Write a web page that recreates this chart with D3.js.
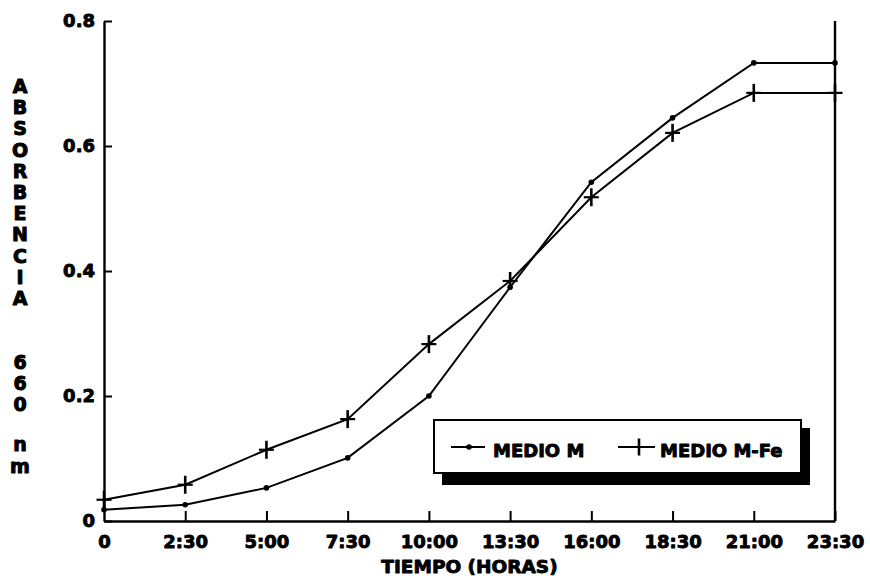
<!DOCTYPE html>
<html>
<head>
<meta charset="utf-8">
<script src="https://cdn.jsdelivr.net/npm/d3@7"></script>
<style>
  body { margin: 0; background: #fff; }
  text { font-family: "DejaVu Sans", sans-serif; font-weight: bold; fill: #000; }
</style>
</head>
<body>
<svg id="chart" width="870" height="584"></svg>
<script>
// Growth curves: absorbance at 660 nm over time for two culture media
const times = ["0", "2:30", "5:00", "7:30", "10:00", "13:30", "16:00", "18:30", "21:00", "23:30"];
const medioM = [0.018, 0.026, 0.053, 0.101, 0.200, 0.374, 0.542, 0.645, 0.733, 0.733];
const medioMFe = [0.034, 0.058, 0.114, 0.163, 0.283, 0.384, 0.518, 0.621, 0.685, 0.685];
const yTicks = [0, 0.2, 0.4, 0.6, 0.8];
const seriesNames = ["MEDIO M", "MEDIO M-Fe"];
const xTitle = "TIEMPO (HORAS)";
const yTitle = "ABSORBENCIA  660 nm";

const svg = d3.select("#chart");
const margin = { left: 104, right: 835, top: 21, bottom: 521 };

const x = d3.scalePoint().domain(times).range([margin.left, margin.right]).padding(0);
const y = d3.scaleLinear().domain([0, 0.8]).range([margin.bottom, margin.top]);

// Axes with inward ticks
const xAxis = d3.axisBottom(x).tickSizeInner(-10).tickSizeOuter(0).tickPadding(14);
const yAxis = d3.axisLeft(y).tickValues(yTicks).tickSizeInner(-8).tickSizeOuter(0).tickPadding(9)
  .tickFormat(d => d === 0 ? "0" : d3.format(".1f")(d));

const gx = svg.append("g").attr("transform", `translate(0,${margin.bottom})`).call(xAxis);
const gy = svg.append("g").attr("transform", `translate(${margin.left},0)`).call(yAxis);

[gx, gy].forEach(g => {
  g.selectAll("path.domain").attr("stroke", "#000").attr("stroke-width", 2.4);
  g.selectAll(".tick line").attr("stroke", "#000").attr("stroke-width", 2);
  g.selectAll(".tick text")
    .style("font-family", "'DejaVu Sans', sans-serif")
    .style("font-weight", "bold")
    .style("font-size", "18px")
    .attr("fill", "#000")
    .attr("stroke", "#000").attr("stroke-width", 0.9).attr("stroke-linejoin", "round");
});
gx.select(".tick line").remove();

// Right frame line
svg.append("line")
  .attr("x1", margin.right).attr("x2", margin.right)
  .attr("y1", y(0.8)).attr("y2", y(0))
  .attr("stroke", "#000").attr("stroke-width", 2.4);

// Axis titles
svg.append("text")
  .attr("x", (margin.left + margin.right) / 2)
  .attr("y", 573)
  .attr("text-anchor", "middle")
  .style("font-size", "18.5px")
  .attr("stroke", "#000").attr("stroke-width", 0.9).attr("stroke-linejoin", "round")
  .text(xTitle);

svg.append("g").selectAll("text")
  .data(yTitle.split(""))
  .join("text")
  .attr("x", 20)
  .attr("y", (d, i) => 86 + i * 21.2 + (d === d.toLowerCase() && d !== " " && isNaN(+d) ? 5 : 7))
  .attr("text-anchor", "middle")
  .style("font-size", "19px")
  .attr("stroke", "#000").attr("stroke-width", 1).attr("stroke-linejoin", "round")
  .text(d => d);

// Series
const line = d3.line().x((d, i) => x(times[i])).y(d => y(d));

svg.append("path")
  .datum(medioM)
  .attr("d", line)
  .attr("fill", "none").attr("stroke", "#000").attr("stroke-width", 2);

svg.append("path")
  .datum(medioMFe)
  .attr("d", line)
  .attr("fill", "none").attr("stroke", "#000").attr("stroke-width", 2);

svg.append("g").selectAll("circle")
  .data(medioM)
  .join("circle")
  .attr("cx", (d, i) => x(times[i]))
  .attr("cy", d => y(d))
  .attr("r", 2.8)
  .attr("fill", "#000");

const plus = (g, cx, cy, w, h) => {
  g.append("line").attr("x1", cx - w).attr("x2", cx + w).attr("y1", cy).attr("y2", cy)
    .attr("stroke", "#000").attr("stroke-width", 2.2);
  g.append("line").attr("x1", cx).attr("x2", cx).attr("y1", cy - h).attr("y2", cy + h)
    .attr("stroke", "#000").attr("stroke-width", 2.6);
};

const gp = svg.append("g");
medioMFe.forEach((d, i) => plus(gp, x(times[i]), y(d), 7.5, 9));

// Legend with drop shadow
const lg = svg.append("g");
lg.append("rect").attr("x", 442).attr("y", 428).attr("width", 368).attr("height", 57).attr("fill", "#000");
lg.append("rect").attr("x", 434).attr("y", 420).attr("width", 367).attr("height", 53)
  .attr("fill", "#fff").attr("stroke", "#000").attr("stroke-width", 2);

const ly = 447;
lg.append("line").attr("x1", 451).attr("x2", 485).attr("y1", ly).attr("y2", ly)
  .attr("stroke", "#000").attr("stroke-width", 2);
lg.append("circle").attr("cx", 469).attr("cy", ly).attr("r", 2.8).attr("fill", "#000");
lg.append("text").attr("x", 493).attr("y", ly + 10).style("font-size", "18px")
  .attr("stroke", "#000").attr("stroke-width", 0.9).attr("stroke-linejoin", "round").text(seriesNames[0]);

lg.append("line").attr("x1", 618).attr("x2", 655).attr("y1", ly).attr("y2", ly)
  .attr("stroke", "#000").attr("stroke-width", 2);
plus(lg, 639, ly, 0, 8.5);
lg.append("text").attr("x", 660).attr("y", ly + 10).style("font-size", "18px")
  .attr("stroke", "#000").attr("stroke-width", 0.9).attr("stroke-linejoin", "round").text(seriesNames[1]);
</script>
</body>
</html>
